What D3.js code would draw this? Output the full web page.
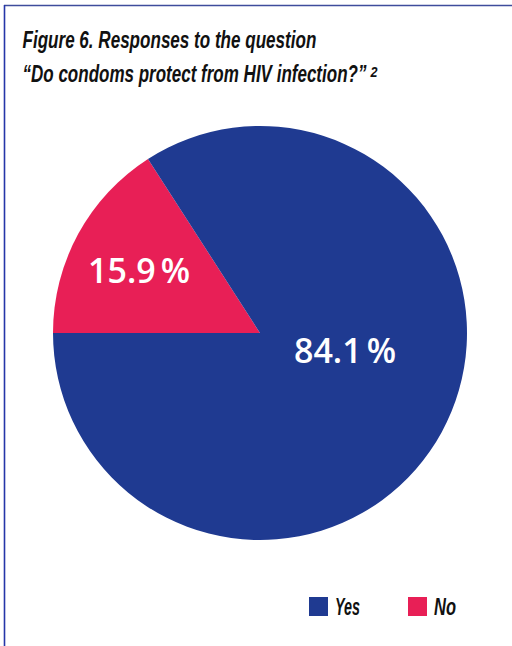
<!DOCTYPE html>
<html>
<head>
<meta charset="utf-8">
<script src="https://cdn.jsdelivr.net/npm/d3@7"></script>
<style>
  html, body { margin: 0; padding: 0; background: #fff; }
  svg { display: block; }
  .title, .legend-label { font-family: "Liberation Sans Narrow", "Liberation Sans", sans-serif; font-weight: bold; font-style: italic; fill: #111; }
  .slice-label { font-family: "Open Sans", "Noto Sans", sans-serif; font-weight: 600; fill: #fff; }
</style>
</head>
<body>
<script>
// Survey answers and their shares (percent)
const categories = ["No", "Yes"];
const values = [15.9, 84.1];
const colors = ["#E81F56", "#1F3A91"];
const legendOrder = ["Yes", "No"];
const titleLines = ["Figure 6. Responses to the question", "\u201CDo condoms protect from HIV infection?\u201D"];
const footnoteMark = "2";

const W = 512, H = 646;
const svg = d3.select("body").append("svg").attr("width", W).attr("height", H);

// Draws a text squeezed horizontally to a given width (condensed look)
function condensedText(str, x, y, size, width) {
  const g = svg.append("g");
  const t = g.append("text").attr("class", "title").attr("font-size", size).text(str);
  const natural = t.node().getComputedTextLength();
  g.attr("transform", `translate(${x},${y}) scale(${width / natural},1)`);
  return t;
}

// Frame: top rule and left rule
svg.append("line").attr("x1", 4).attr("x2", W).attr("y1", 5.5).attr("y2", 5.5)
  .attr("stroke", "#3E4C9C").attr("stroke-width", 1.6);
svg.append("line").attr("x1", 4.5).attr("x2", 4.5).attr("y1", 5).attr("y2", H)
  .attr("stroke", "#2536A8").attr("stroke-width", 1.6);

// Title
condensedText(titleLines[0], 22.5, 48, 24, 294);
condensedText(titleLines[1], 22.5, 82, 24, 344);
condensedText(footnoteMark, 370.5, 77, 14, 7);

// Pie
const cx = 260, cy = 333, r = 207;
const color = d3.scaleOrdinal().domain(categories).range(colors);
const pie = d3.pie().sort(null).value(d => d.value)
  .startAngle(-Math.PI / 2).endAngle(1.5 * Math.PI);
const data = categories.map((c, i) => ({ cat: c, value: values[i] }));
const arcs = pie(data);
const arc = d3.arc().innerRadius(0).outerRadius(r);
const g = svg.append("g").attr("transform", `translate(${cx},${cy})`);
g.selectAll("path").data(arcs).join("path")
  .attr("d", arc).attr("fill", d => color(d.data.cat));

// Slice labels
const labelPos = { No: [-121, -50], Yes: [85, 30] };
arcs.forEach(a => {
  const [lx, ly] = labelPos[a.data.cat];
  const t = g.append("text").attr("class", "slice-label")
    .attr("x", lx).attr("y", ly).attr("text-anchor", "middle").attr("font-size", 34);
  t.append("tspan").text(d3.format(".1f")(a.data.value));
  t.append("tspan").attr("dx", 5).text("%");
});

// Legend
const legendX = { Yes: 309, No: 408 };
const legendW = { Yes: 25, No: 22 };
legendOrder.forEach(c => {
  svg.append("rect").attr("x", legendX[c]).attr("y", 597).attr("width", 19).attr("height", 19)
    .attr("fill", color(c));
  condensedText(c, legendX[c] + 26, 615, 23, legendW[c]).attr("class", "legend-label");
});
</script>
</body>
</html>
